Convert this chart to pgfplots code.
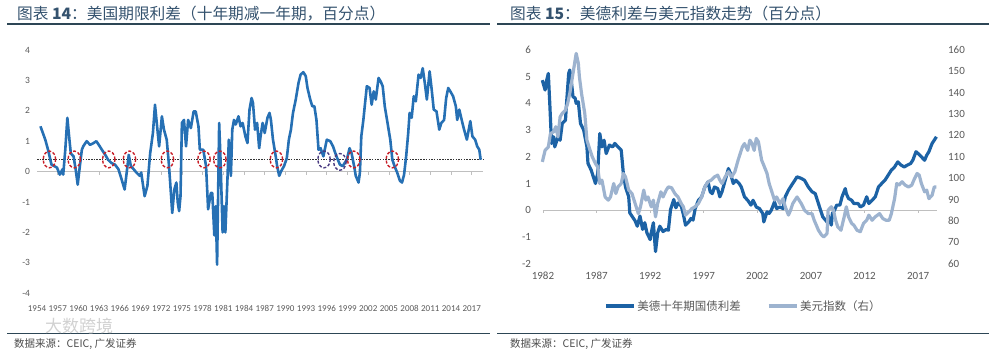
\documentclass[border=0pt]{standalone}
\usepackage{pgfplots}
\pgfplotsset{compat=1.18}
\usepackage{fontspec}
\setmainfont{Carlito}
\newfontfamily\cjk{Noto Sans CJK SC}
\definecolor{ttl}{RGB}{52,82,110}
\definecolor{rule}{RGB}{45,70,85}
\definecolor{lblue}{RGB}{38,112,180}
\definecolor{dblue}{RGB}{28,98,165}
\definecolor{gblue}{RGB}{157,179,207}
\definecolor{txt}{RGB}{89,89,89}
\definecolor{zl}{RGB}{191,191,191}
\definecolor{cred}{RGB}{200,30,40}
\definecolor{cpur}{RGB}{75,60,130}
\begin{document}
\begin{tikzpicture}
\useasboundingbox (0,0) rectangle (989pt,352pt);
% titles and rules
\node[anchor=west, text=ttl, inner sep=0pt] at (17pt,338.5pt) {\cjk\fontsize{15.7}{16}\selectfont 图表 \textbf{14}：美国期限利差（十年期减一年期，百分点）};
\node[anchor=west, text=ttl, inner sep=0pt] at (510pt,338.5pt) {\cjk\fontsize{15.7}{16}\selectfont 图表 \textbf{15}：美德利差与美元指数走势（百分点）};
\draw[rule, line width=2pt] (7pt,327.5pt) -- (490pt,327.5pt);
\draw[rule, line width=2pt] (497pt,327.5pt) -- (989pt,327.5pt);
\draw[rule, line width=0.9pt] (7pt,19pt) -- (490pt,19pt);
\draw[rule, line width=0.9pt] (497pt,19pt) -- (989pt,19pt);
\node[anchor=west, text=black!70, inner sep=0pt] at (14pt,8pt) {\cjk\fontsize{10.5}{11}\selectfont 数据来源：CEIC, 广发证券};
\node[anchor=west, text=black!70, inner sep=0pt] at (510pt,8pt) {\cjk\fontsize{10.5}{11}\selectfont 数据来源：CEIC, 广发证券};
\node[anchor=west, text=black!18, inner sep=0pt] at (45pt,26pt) {\cjk\fontsize{17}{18}\selectfont 大数跨境};

% ---------------- left chart
\begin{axis}[
  at={(33.55pt,58.8pt)}, anchor=south west, scale only axis,
  width=451.95pt, height=243.2pt,
  xmin=1953.5, xmax=2019, ymin=-4, ymax=4,
  axis line style={draw=none}, major tick length=0pt,
  xtick={1954,1957,...,2017}, ytick={-4,-3,...,4},
  /pgf/number format/assume math mode=true,
  xticklabel style={/pgf/number format/1000 sep=, font=\fontsize{9}{10}\selectfont, text=txt, yshift=-9pt},
  yticklabel style={font=\fontsize{9.5}{10}\selectfont, text=txt},
  clip=false,
]
\draw[zl, line width=0.8pt] (axis cs:1954,0) -- (axis cs:2018.6,0);
\pgfplotsinvokeforeach{1957,1960,...,2017}{\draw[zl, line width=0.8pt] (axis cs:#1,0) -- ++(0pt,-3pt);}
\addplot[black!80, line width=0.9pt, dash pattern=on 1.5pt off 1.2pt] coordinates {(1954,0.4) (2018.6,0.4)};
\addplot[lblue, line width=2.6pt, line join=round] coordinates {
(1954.5,1.49) (1955.2,1.05) (1955.6,0.72) (1956.1,0.23) (1956.9,0.13) (1957.3,-0.10) (1957.7,0.08) (1957.8,-0.10)
(1958.1,0.72) (1958.4,1.77) (1958.7,1.05) (1958.9,0.60) (1959.3,0.50) (1959.6,0.08) (1959.9,-0.43) (1960.1,-0.03)
(1960.5,0.72) (1960.7,0.83) (1961.2,1.00) (1961.7,0.88) (1962.2,0.94) (1962.6,1.00) (1963.1,0.83) (1963.4,0.72)
(1963.9,0.55) (1964.3,0.39) (1964.8,0.28) (1965.3,0.23) (1965.8,0.08) (1966.2,-0.21) (1966.7,-0.59) (1967.0,-0.03)
(1967.3,0.55) (1967.6,0.18) (1968.0,0.08) (1968.4,-0.03) (1968.9,-0.14) (1969.1,-0.03) (1969.6,-0.81) (1970.0,-0.47)
(1970.4,0.60) (1970.8,1.27) (1971.1,2.20) (1971.5,1.27) (1971.7,0.83) (1972.1,1.82) (1972.4,1.38) (1972.8,1.05)
(1973.1,0.28) (1973.3,-0.36) (1973.6,-1.36) (1973.9,-0.59) (1974.2,-0.36) (1974.4,-1.02) (1974.6,-1.30) (1974.8,-0.80)
(1975.0,1.60) (1975.3,1.70) (1975.6,0.83) (1975.9,1.70) (1976.3,1.43) (1976.7,1.98) (1977.0,1.98) (1977.4,1.49)
(1977.6,0.72) (1978.1,0.72) (1978.5,0.18) (1978.8,-1.24) (1979.2,-0.70) (1979.4,-0.70) (1979.7,-2.10) (1979.9,-1.14)
(1980.1,-3.06) (1980.4,1.60) (1980.6,0.39) (1980.9,-2.00) (1981.1,-1.14) (1981.3,-2.00) (1981.6,-0.26) (1981.8,1.05)
(1982.1,-0.14) (1982.3,1.38) (1982.55,1.70) (1982.8,1.55) (1983.2,1.82) (1983.5,1.49) (1983.8,1.60) (1984.2,1.16)
(1984.5,0.94) (1984.8,2.04) (1985.1,2.42) (1985.3,2.26) (1985.6,1.38) (1985.9,1.60) (1986.2,0.77) (1986.4,1.16)
(1986.7,1.60) (1987.0,1.27) (1987.4,1.77) (1987.7,1.93) (1987.9,1.70) (1988.2,1.05) (1988.6,0.50) (1988.8,0.18)
(1989.1,-0.14) (1989.4,0.02) (1989.8,0.18) (1990.2,0.44) (1990.5,1.05) (1990.8,1.38) (1991.1,1.93) (1991.5,2.37)
(1991.9,2.92) (1992.2,3.19) (1992.6,3.27) (1992.95,3.14) (1993.2,2.75) (1993.6,2.37) (1993.9,2.15) (1994.2,2.15)
(1994.5,1.70) (1994.8,0.72) (1995.1,0.77) (1995.5,0.50) (1996.0,1.05) (1996.5,1.00) (1996.9,0.83) (1997.4,0.50)
(1997.9,0.23) (1998.3,0.18) (1998.9,0.39) (1999.3,0.77) (1999.6,0.60) (2000.0,0.13) (2000.2,-0.14) (2000.6,-0.36)
(2000.8,-0.03) (2001.0,1.16) (2001.3,1.70) (2001.5,2.15) (2001.8,2.81) (2002.2,2.75) (2002.5,2.20) (2002.8,2.64)
(2003.1,2.37) (2003.5,3.08) (2003.8,2.97) (2004.1,2.81) (2004.4,2.15) (2004.8,1.60) (2005.2,1.05) (2005.5,0.39)
(2005.9,0.13) (2006.2,-0.03) (2006.6,-0.30) (2006.9,-0.36) (2007.2,-0.10) (2007.5,0.50) (2007.8,1.27) (2008.0,1.93)
(2008.3,1.77) (2008.6,2.48) (2008.9,2.31) (2009.3,3.19) (2009.6,3.08) (2009.9,3.40) (2010.2,2.92) (2010.5,2.37)
(2010.9,3.30) (2011.2,2.70) (2011.5,2.04) (2011.9,1.98) (2012.3,1.38) (2012.6,1.60) (2013.0,1.70) (2013.3,2.42)
(2013.6,2.75) (2013.9,2.64) (2014.3,2.48) (2014.7,2.15) (2014.9,1.70) (2015.2,2.04) (2015.55,1.70) (2015.9,1.38)
(2016.3,1.05) (2016.8,1.66) (2017.1,1.16) (2017.5,1.05) (2017.8,0.83) (2018.1,0.72) (2018.3,0.39)
};
\addplot[only marks, mark=o, color=cred, mark size=6.2pt, mark options={dash pattern=on 3pt off 1.8pt, line width=1.4pt, yscale=1.35}] coordinates {
(1955.8,0.4) (1959.4,0.4) (1964.4,0.4) (1967.4,0.4) (1972.9,0.4) (1978.2,0.4) (1980.5,0.4) (1988.7,0.4) (1999.9,0.4) (2005.5,0.4)
};
\addplot[only marks, mark=o, color=cpur, mark size=6.2pt, mark options={dash pattern=on 3pt off 1.8pt, line width=1.4pt, yscale=1.35}] coordinates {
(1995.6,0.4) (1997.9,0.32)
};
\end{axis}

% ---------------- right chart, left axis
\begin{axis}[
  at={(537.6pt,88.4pt)}, anchor=south west, scale only axis,
  width=402pt, height=213.6pt,
  xmin=1981.5, xmax=2019, ymin=-2, ymax=6,
  axis line style={draw=none}, major tick length=0pt,
  xtick={1982,1987,...,2017}, ytick={-2,-1,...,6},
  /pgf/number format/assume math mode=true,
  xticklabel style={/pgf/number format/1000 sep=, font=\fontsize{11}{12}\selectfont, text=txt, yshift=-5pt},
  yticklabel style={font=\fontsize{11}{12}\selectfont, text=txt, xshift=-3pt},
  clip=false,
  legend style={at={(0.512,-0.1985)}, anchor=center, draw=none, fill=none, legend columns=2,
    font=\cjk\fontsize{11.5}{12}\selectfont, text=txt, inner sep=0pt,
    /tikz/every even column/.append style={column sep=24pt}},
  legend image code/.code={\draw[#1] (0pt,0pt) -- (28pt,0pt);},
]
\draw[zl, line width=0.8pt] (axis cs:1982,0) -- (axis cs:2018.75,0);
\pgfplotsinvokeforeach{1982,1987,...,2017}{\draw[zl, line width=0.8pt] (axis cs:#1,0) -- ++(0pt,-3pt);}
\addplot[dblue, line width=3.2pt, line join=round] coordinates {
(1981.94,4.87) (1982.2,4.5) (1982.35,4.87) (1982.5,5.12) (1982.65,3.87) (1982.8,2.5) (1983.0,2.75) (1983.1,2.37)
(1983.4,2.75) (1983.6,2.62) (1983.8,3.25) (1984.1,3.37) (1984.2,4.0) (1984.4,5.12) (1984.5,5.25) (1984.67,4.75)
(1984.8,4.25) (1985.0,4.2) (1985.1,4.0) (1985.3,4.06) (1985.5,3.25) (1985.8,3.0) (1986.1,2.37) (1986.2,1.75)
(1986.5,1.5) (1986.7,1.25) (1986.9,1.0) (1987.1,1.37) (1987.3,2.87) (1987.5,2.37) (1987.7,2.62) (1987.9,2.12)
(1988.2,2.44) (1988.5,2.37) (1988.7,2.5) (1989.0,2.37) (1989.3,2.25) (1989.5,1.37) (1989.7,0.87) (1990.0,0.5)
(1990.1,-0.1) (1990.3,-0.22) (1990.6,-0.4) (1990.8,-0.6) (1991.05,-0.22) (1991.3,-0.72) (1991.5,-0.47) (1991.7,-0.85)
(1992.0,-1.1) (1992.1,-0.85) (1992.3,-0.47) (1992.5,-1.55) (1992.7,-0.85) (1992.9,-0.6) (1993.2,-0.8) (1993.5,-0.72)
(1993.7,-0.75) (1993.9,0.02) (1994.2,0.4) (1994.4,0.09) (1994.6,0.27) (1994.9,0.15) (1995.1,-0.16) (1995.3,-0.56)
(1995.6,-0.44) (1995.8,-0.31) (1996.0,-0.37) (1996.2,0.06) (1996.5,0.37) (1996.8,0.5) (1997.1,0.87) (1997.4,1.06)
(1997.6,0.69) (1997.8,0.62) (1998.0,0.87) (1998.3,0.81) (1998.5,0.5) (1998.7,0.69) (1999.0,1.12) (1999.3,1.56)
(1999.5,1.37) (1999.75,1.0) (2000.0,1.12) (2000.3,1.0) (2000.5,0.87) (2000.8,0.5) (2001.1,0.37) (2001.4,0.19)
(2001.6,0.37) (2001.9,0.12) (2002.2,0.06) (2002.5,-0.12) (2002.6,-0.44) (2002.9,-0.06) (2003.1,-0.12) (2003.3,0.0)
(2003.6,0.31) (2003.8,0.06) (2004.1,0.12) (2004.4,0.06) (2004.6,0.5) (2004.9,0.75) (2005.2,0.94) (2005.4,1.06)
(2005.7,1.25) (2006.1,1.19) (2006.4,1.12) (2006.75,0.87) (2007.1,0.69) (2007.4,0.62) (2007.6,0.37) (2007.8,0.12)
(2008.1,-0.25) (2008.5,-0.44) (2008.6,-0.19) (2008.9,-0.56) (2009.0,-0.12) (2009.2,0.0) (2009.4,0.19) (2009.7,0.19)
(2009.9,0.5) (2010.2,0.81) (2010.3,0.62) (2010.5,0.44) (2010.8,0.37) (2011.0,0.25) (2011.4,0.25) (2011.6,0.12)
(2011.9,0.19) (2012.2,0.5) (2012.4,0.25) (2012.7,0.37) (2013.0,0.5) (2013.3,0.87) (2013.6,1.0) (2013.9,1.12)
(2014.2,1.31) (2014.5,1.5) (2014.8,1.62) (2015.1,1.81) (2015.4,1.69) (2015.7,1.62) (2016.0,1.69) (2016.3,1.75)
(2016.5,1.87) (2016.8,2.19) (2017.0,2.12) (2017.3,2.0) (2017.6,1.87) (2017.8,2.06) (2018.0,2.19) (2018.3,2.5)
(2018.5,2.62) (2018.7,2.75)
};
\addlegendentry{美德十年期国债利差}
\addlegendimage{gblue, line width=3.2pt}
\addlegendentry{美元指数（右）}
\end{axis}

% ---------------- right chart, right axis
\begin{axis}[
  at={(537.6pt,88.4pt)}, anchor=south west, scale only axis,
  width=402pt, height=213.6pt,
  xmin=1981.5, xmax=2019, ymin=60, ymax=160,
  axis x line=none, axis y line*=right,
  axis line style={draw=none}, major tick length=0pt,
  ytick={60,70,...,160},
  /pgf/number format/assume math mode=true,
  yticklabel style={font=\fontsize{11}{12}\selectfont, text=txt, xshift=5pt},
  clip=false,
]
\addplot[gblue, line width=3.2pt, line join=round] coordinates {
(1981.94,107.6) (1982.2,113) (1982.5,114.6) (1982.7,120.9) (1983.0,121.7) (1983.2,124.1) (1983.4,119.3) (1983.6,128.7)
(1983.8,130.3) (1984.1,131.8) (1984.3,134.9) (1984.5,139.6) (1984.7,145.9) (1984.9,152.1) (1985.1,158.4) (1985.3,153.7)
(1985.4,147.4) (1985.6,139.6) (1985.9,130.3) (1986.1,117.8) (1986.4,113) (1986.6,110) (1986.9,106.8) (1987.1,105.3)
(1987.3,97.5) (1987.5,99.1) (1987.8,91.2) (1988.1,89.7) (1988.3,91.2) (1988.6,97.5) (1988.8,92.8) (1989.0,95.9)
(1989.3,97.5) (1989.5,102.2) (1989.7,100.6) (1990.0,94.4) (1990.3,92.8) (1990.6,88.1) (1990.9,83.4) (1991.1,86.6)
(1991.4,94.4) (1991.6,89.7) (1991.8,91.2) (1992.1,86.6) (1992.3,89.7) (1992.5,81.9) (1992.7,88.1) (1993.0,93.6)
(1993.2,91.2) (1993.5,94.4) (1993.7,95.9) (1994.0,95.5) (1994.3,92.8) (1994.6,91.2) (1994.9,88.1) (1995.1,86.6)
(1995.3,82.7) (1995.6,84.2) (1995.9,85.8) (1996.2,86.6) (1996.5,88.1) (1996.8,91.2) (1997.1,95.9) (1997.4,98.3)
(1997.7,99.1) (1998.0,100.6) (1998.3,101.4) (1998.5,99.1) (1998.7,97.5) (1999.0,100.6) (1999.3,103) (1999.6,100.6)
(1999.9,103) (2000.2,108.4) (2000.4,111.5) (2000.6,114.6) (2000.8,116.2) (2001.1,113) (2001.3,117.8) (2001.5,116.2)
(2001.7,113) (2001.9,118.6) (2002.1,117) (2002.4,108.4) (2002.6,106) (2002.9,102.2) (2003.1,97.5) (2003.3,94.4)
(2003.6,89.7) (2003.8,91.2) (2004.1,88.1) (2004.4,90.4) (2004.6,86.6) (2004.9,82.7) (2005.1,85) (2005.3,88.1)
(2005.7,91.2) (2006.1,88.1) (2006.4,85) (2006.75,83.4) (2007.1,83.4) (2007.3,80.3) (2007.5,78) (2007.7,75.6)
(2008.0,73.3) (2008.2,72.5) (2008.5,74.1) (2008.6,85) (2008.9,86.6) (2009.1,85) (2009.3,80.3) (2009.5,77.2)
(2009.8,75.6) (2010.1,81.9) (2010.3,86.6) (2010.5,81.9) (2010.8,78.8) (2011.0,78) (2011.3,75.6) (2011.6,74.9)
(2011.9,78.8) (2012.2,80.3) (2012.4,82.7) (2012.7,80.3) (2013.0,81.9) (2013.4,83.4) (2013.7,81.1) (2014.0,80.3)
(2014.3,80.3) (2014.5,83.4) (2014.8,90.4) (2015.0,97.5) (2015.2,96.7) (2015.5,98.3) (2015.8,96.7) (2016.1,95.9)
(2016.4,96.7) (2016.6,99.1) (2016.9,102.2) (2017.1,101.4) (2017.3,97.5) (2017.6,93.6) (2017.8,94.4) (2018.0,90.4)
(2018.3,92) (2018.5,95.9) (2018.7,95.9)
};
\end{axis}
\end{tikzpicture}
\end{document}
